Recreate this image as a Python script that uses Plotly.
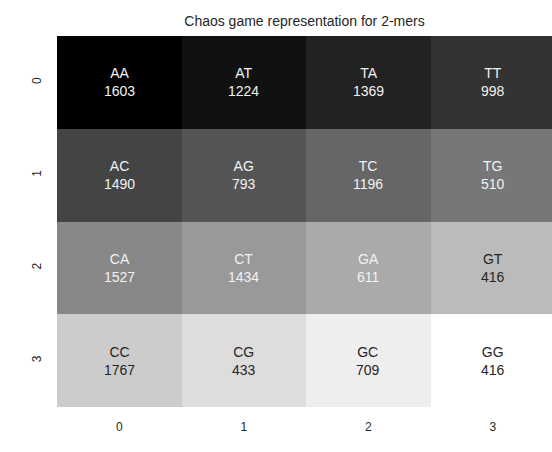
import plotly.graph_objects as go

# 2-mer layout on the chaos game grid (row by row)
kmers = [
    ["AA", "AT", "TA", "TT"],
    ["AC", "AG", "TC", "TG"],
    ["CA", "CT", "GA", "GT"],
    ["CC", "CG", "GC", "GG"],
]
counts = [
    [1603, 1224, 1369, 998],
    [1490, 793, 1196, 510],
    [1527, 1434, 611, 416],
    [1767, 433, 709, 416],
]
# grey level of each cell (0 = black, 15 = white)
shade = [
    [0, 1, 2, 3],
    [4, 5, 6, 7],
    [8, 9, 10, 11],
    [12, 13, 14, 15],
]
col_labels = ["0", "1", "2", "3"]
row_labels = ["0", "1", "2", "3"]

FONT = "Liberation Sans, Arial, sans-serif"
INK = "#262626"

fig = go.Figure(
    go.Heatmap(
        z=shade,
        x=[0, 1, 2, 3],
        y=[0, 1, 2, 3],
        colorscale=[[0, "#000000"], [1, "#ffffff"]],
        zmin=0,
        zmax=15,
        showscale=False,
        hoverinfo="skip",
    )
)

annotations = []
for r in range(4):
    for c in range(4):
        annotations.append(
            dict(
                x=c,
                y=r,
                xref="x",
                yref="y",
                text=f"{kmers[r][c]}<br>{counts[r][c]}",
                showarrow=False,
                font=dict(family=FONT, size=14,
                          color="#f2f2f2" if shade[r][c] <= 10 else INK),
            )
        )

fig.update_layout(
    width=552,
    height=452,
    margin=dict(l=57, r=0, t=36, b=45),
    paper_bgcolor="white",
    plot_bgcolor="white",
    font=dict(family=FONT, color=INK, size=12),
    title=dict(
        text="Chaos game representation for 2-mers",
        x=0.5,
        xref="paper",
        y=1 - 21 / 452,
        yanchor="middle",
        font=dict(family=FONT, size=14, color=INK),
    ),
    annotations=annotations,
)
fig.update_xaxes(
    range=[-0.5, 3.476],
    tickvals=[0, 1, 2, 3],
    ticktext=col_labels,
    showgrid=False,
    zeroline=False,
    showline=False,
    ticks="",
    ticklabelstandoff=11,
    tickfont=dict(size=12, color=INK),
)
fig.update_yaxes(
    range=[3.5, -0.5],
    tickvals=[0, 1, 2, 3],
    ticktext=row_labels,
    tickangle=-90,
    showgrid=False,
    zeroline=False,
    showline=False,
    ticks="",
    ticklabelstandoff=13,
    tickfont=dict(size=12, color=INK),
)

fig.write_html("out.html")
